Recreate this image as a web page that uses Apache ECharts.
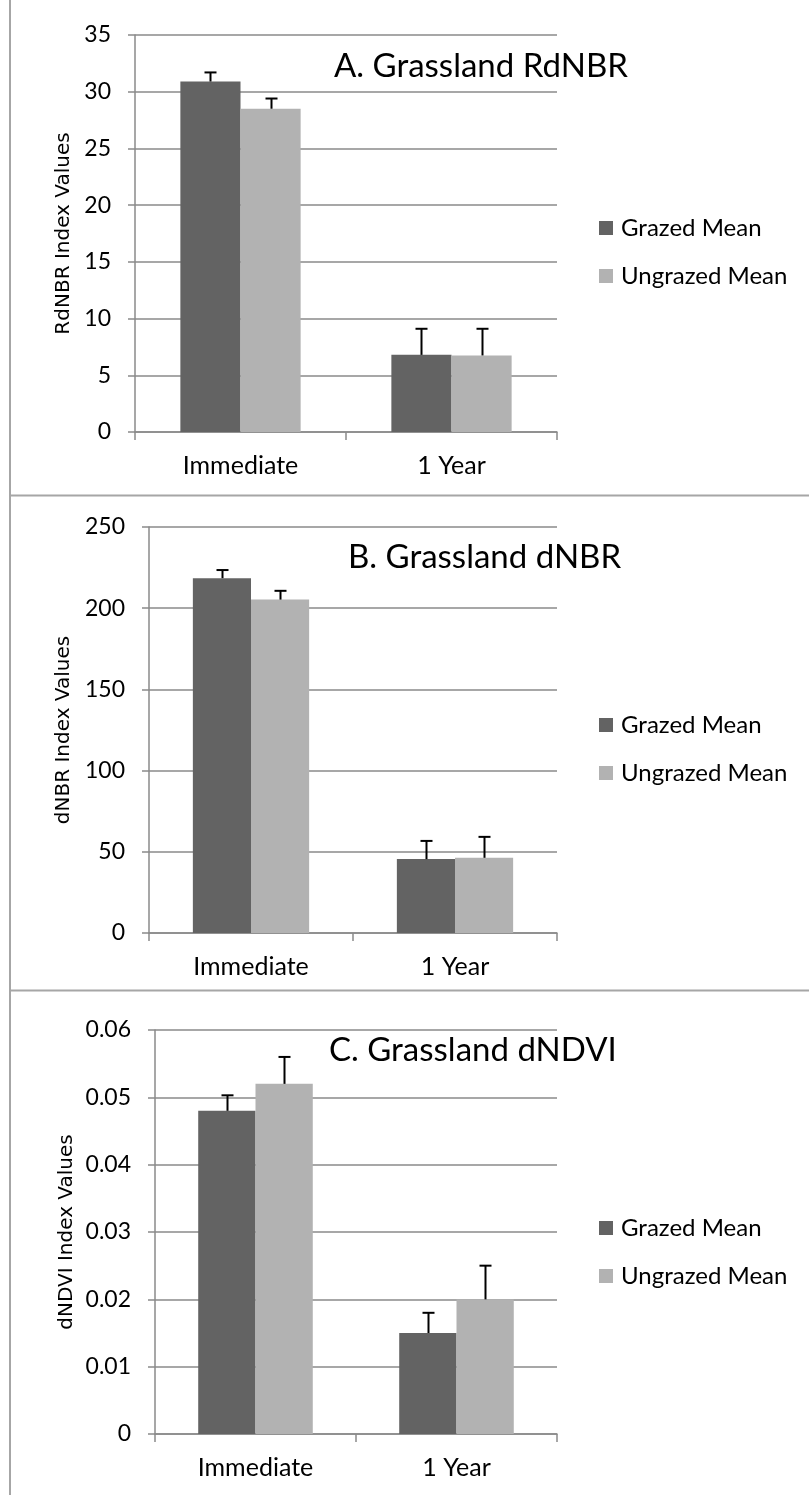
<!DOCTYPE html>
<html>
<head>
<meta charset="utf-8">
<script src="https://cdn.jsdelivr.net/npm/echarts@6/dist/echarts.min.js"></script>
<style>
html,body{margin:0;padding:0;background:#fff;}
#chart{width:809px;height:1495px;}
</style>
</head>
<body>
<div id="chart"></div>
<script>
// ---- data ----
const categories = ['Immediate', '1 Year'];
const seriesNames = ['Grazed Mean', 'Ungrazed Mean'];
const panelTitles = ['A. Grassland RdNBR', 'B. Grassland dNBR', 'C. Grassland dNDVI'];
const axisTitles = ['RdNBR Index Values', 'dNBR Index Values', 'dNDVI Index Values'];

// Panel A (RdNBR)
const rdnbrGrazed = [30.9, 6.8];
const rdnbrGrazedErr = [0.8, 2.3];
const rdnbrUngrazed = [28.5, 6.75];
const rdnbrUngrazedErr = [0.9, 2.35];
const rdnbrTicks = { min: 0, max: 35, interval: 5 };

// Panel B (dNBR)
const dnbrGrazed = [218.5, 45.5];
const dnbrGrazedErr = [5.0, 11.2];
const dnbrUngrazed = [205.3, 46.3];
const dnbrUngrazedErr = [5.4, 12.9];
const dnbrTicks = { min: 0, max: 250, interval: 50 };

// Panel C (dNDVI)
const dndviGrazed = [0.048, 0.015];
const dndviGrazedErr = [0.0023, 0.003];
const dndviUngrazed = [0.052, 0.020];
const dndviUngrazedErr = [0.004, 0.005];
const dndviTicks = { min: 0, max: 0.06, interval: 0.01 };

// ---- layout / style ----
const FONT = 'Lato';
const DARK = '#636363';
const LIGHT = '#b2b2b2';
const GRIDC = '#8a8a8a';
const CAT_GAP = 0.43;

const panels = [
  { grazed: rdnbrGrazed, gErr: rdnbrGrazedErr, ungrazed: rdnbrUngrazed, uErr: rdnbrUngrazedErr, ticks: rdnbrTicks,
    grid: { left: 135, top: 35, width: 422, height: 397 }, titlePos: { left: 334, top: 49.5 }, legendTop: 214, nameGap: 58 },
  { grazed: dnbrGrazed, gErr: dnbrGrazedErr, ungrazed: dnbrUngrazed, uErr: dnbrUngrazedErr, ticks: dnbrTicks,
    grid: { left: 149, top: 527, width: 408, height: 406 }, titlePos: { left: 348, top: 540.5 }, legendTop: 711, nameGap: 72 },
  { grazed: dndviGrazed, gErr: dndviGrazedErr, ungrazed: dndviUngrazed, uErr: dndviUngrazedErr, ticks: dndviTicks,
    grid: { left: 155, top: 1030, width: 402, height: 404 }, titlePos: { left: 329, top: 1033.5 }, legendTop: 1214, nameGap: 78 }
];

function errRender(side) {
  return function (params, api) {
    const cat = api.value(0);
    const hi = api.value(1);
    const lo = api.value(2);
    const band = api.size([1, 0])[0];
    const bw = band * (1 - CAT_GAP) / 2;
    const pTop = api.coord([cat, hi]);
    const pBot = api.coord([cat, lo]);
    const x = Math.round(pTop[0] + side * bw / 2) + 0.5;
    const st = { stroke: '#000', lineWidth: 2 };
    return {
      type: 'group',
      children: [
        { type: 'line', shape: { x1: x, y1: pBot[1], x2: x, y2: pTop[1] }, style: st },
        { type: 'line', shape: { x1: x - 6, y1: pTop[1], x2: x + 6, y2: pTop[1] }, style: st }
      ]
    };
  };
}

const option = {
  animation: false,
  backgroundColor: '#fff',
  title: [], legend: [], grid: [], xAxis: [], yAxis: [], series: [],
  graphic: [
    { type: 'line', shape: { x1: 10, y1: 0, x2: 10, y2: 1495 }, style: { stroke: '#a6a6a6', lineWidth: 2 } },
    { type: 'line', shape: { x1: 10, y1: 495.5, x2: 809, y2: 495.5 }, style: { stroke: '#a6a6a6', lineWidth: 2 } },
    { type: 'line', shape: { x1: 10, y1: 990.5, x2: 809, y2: 990.5 }, style: { stroke: '#a6a6a6', lineWidth: 2 } }
  ]
};

panels.forEach((p, i) => {
  option.grid.push(Object.assign({ containLabel: false }, p.grid));
  option.title.push({
    text: panelTitles[i], left: p.titlePos.left, top: p.titlePos.top, padding: 0,
    textStyle: { fontFamily: FONT, fontSize: 33, fontWeight: 'normal', color: '#000', lineHeight: 33 }
  });
  option.legend.push({
    data: seriesNames, orient: 'vertical', left: 599, top: p.legendTop, padding: 0,
    itemWidth: 14, itemHeight: 14, itemGap: 20, icon: 'rect',
    textStyle: { fontFamily: FONT, fontSize: 24, color: '#000', lineHeight: 28, padding: [0, 0, 0, 3] }
  });
  option.xAxis.push({
    type: 'category', gridIndex: i, data: categories,
    axisLine: { show: true, lineStyle: { color: GRIDC, width: 1.5 } },
    axisTick: { show: true, length: 8, alignWithLabel: false, lineStyle: { color: GRIDC, width: 1.5 } },
    axisLabel: { fontFamily: FONT, fontSize: 25, color: '#000', margin: 21 },
    splitLine: { show: false }
  });
  option.yAxis.push({
    type: 'value', gridIndex: i, min: p.ticks.min, max: p.ticks.max, interval: p.ticks.interval,
    name: axisTitles[i], nameLocation: 'middle', nameGap: p.nameGap, nameRotate: 90,
    nameTextStyle: { fontFamily: 'DejaVu Sans', fontSize: 20, color: '#000' },
    axisLine: { show: true, lineStyle: { color: GRIDC, width: 1.5 } },
    axisTick: { show: true, length: 7, lineStyle: { color: GRIDC, width: 1.5 } },
    axisLabel: { fontFamily: FONT, fontSize: 23, color: '#000', margin: 24 },
    splitLine: { show: true, lineStyle: { color: GRIDC, width: 1.5 } }
  });
  option.series.push({
    name: seriesNames[0], type: 'bar', xAxisIndex: i, yAxisIndex: i, data: p.grazed,
    itemStyle: { color: DARK }, barGap: '0%', barCategoryGap: (CAT_GAP * 100) + '%'
  });
  option.series.push({
    name: seriesNames[1], type: 'bar', xAxisIndex: i, yAxisIndex: i, data: p.ungrazed,
    itemStyle: { color: LIGHT }, barGap: '0%', barCategoryGap: (CAT_GAP * 100) + '%'
  });
  option.series.push({
    name: 'err-g-' + i, type: 'custom', xAxisIndex: i, yAxisIndex: i, z: 5,
    renderItem: errRender(-1),
    data: p.grazed.map((v, k) => [k, v + p.gErr[k], v])
  });
  option.series.push({
    name: 'err-u-' + i, type: 'custom', xAxisIndex: i, yAxisIndex: i, z: 5,
    renderItem: errRender(1),
    data: p.ungrazed.map((v, k) => [k, v + p.uErr[k], v])
  });
});

const chart = echarts.init(document.getElementById('chart'), null, { renderer: 'canvas' });
chart.setOption(option);
</script>
</body>
</html>
